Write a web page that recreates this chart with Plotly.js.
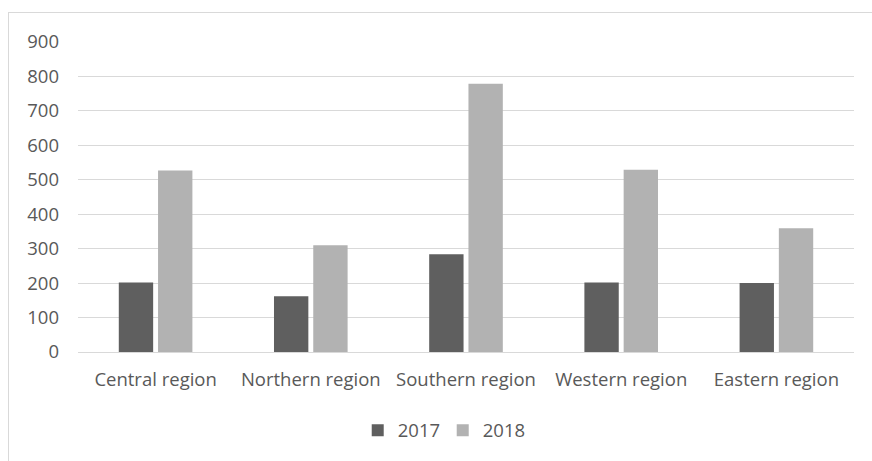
<!DOCTYPE html>
<html>
<head>
<meta charset="utf-8">
<script src="https://cdn.plot.ly/plotly-3.0.1.min.js"></script>
<style>
  html, body { margin: 0; padding: 0; background: #ffffff; overflow: hidden; }
  #frame { position: absolute; left: 8px; top: 12px; width: 900px; height: 500px; border: 1px solid #d9d9d9; box-sizing: border-box; }
  #chart { position: absolute; left: 0; top: 0; width: 872px; height: 461px; }
</style>
</head>
<body>
<div id="frame"></div>
<div id="chart"></div>
<script>
const categories = ["Central region", "Northern region", "Southern region", "Western region", "Eastern region"];
const values2017 = [202, 162, 284, 202, 200];
const values2018 = [527, 310, 779, 529, 359];
const seriesNames = ["2017", "2018"];
const yTicks = [0, 100, 200, 300, 400, 500, 600, 700, 800, 900];

const font = { family: "'Open Sans', sans-serif", size: 18.5, color: "#595959" };

const data = [
  { type: "bar", name: seriesNames[0], x: categories, y: values2017, marker: { color: "#5f5f5f" }, hoverinfo: "none" },
  { type: "bar", name: seriesNames[1], x: categories, y: values2018, marker: { color: "#b2b2b2" }, hoverinfo: "none" }
];

const layout = {
  width: 872, height: 461,
  margin: { l: 78, r: 18, t: 42, b: 108 },
  paper_bgcolor: "rgba(0,0,0,0)",
  plot_bgcolor: "rgba(0,0,0,0)",
  font: font,
  barmode: "group",
  bargap: 0.494,
  bargroupgap: 0.125,
  showlegend: true,
  legend: {
    orientation: "h", x: 0.47, xanchor: "center", y: -0.25, yanchor: "middle",
    font: font, itemwidth: 30, entrywidth: 40, traceorder: "normal"
  },
  xaxis: {
    type: "category", showgrid: false, zeroline: false,
    showline: true, linecolor: "#d9d9d9", linewidth: 1,
    ticks: "", tickfont: font, ticklabelstandoff: 11
  },
  yaxis: {
    range: [0, 900], tickvals: yTicks, ticktext: yTicks.map(String),
    showgrid: true, gridcolor: "#d9d9d9", gridwidth: 1,
    zeroline: false, showline: false, ticks: "", tickfont: font,
    ticklabelstandoff: 18
  }
};

Plotly.newPlot("chart", data, layout, { displayModeBar: false, staticPlot: true });
</script>
</body>
</html>
